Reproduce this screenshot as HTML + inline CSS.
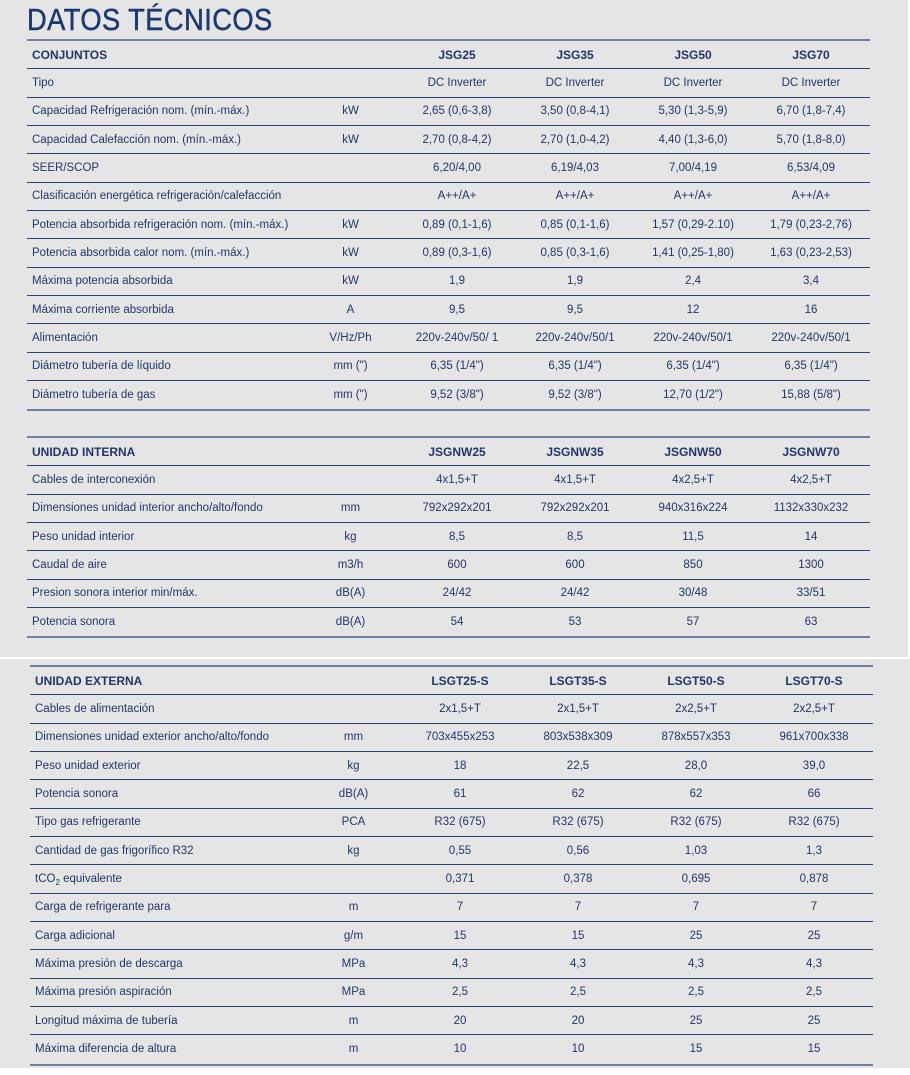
<!DOCTYPE html>
<html><head><meta charset="utf-8"><style>
*{margin:0;padding:0;box-sizing:border-box}
body{width:910px;height:1075px;background:#fff;position:relative;overflow:hidden;font-family:"Liberation Sans",sans-serif;color:#22366a}
.p1{position:absolute;left:0;top:0;width:908px;height:657px;background:#e5e5e5}
.p2{position:absolute;left:0;top:659px;width:910px;height:409px;background:#e5e5e5}
h1{position:absolute;left:27px;top:2px;font-size:31px;font-weight:normal;color:#1c3a72;letter-spacing:0.5px;transform:scaleX(0.88);transform-origin:left top;-webkit-text-stroke:0.5px #1c3a72}
.t{position:absolute;width:843px;border-top:2px solid #6e7fa3;border-bottom:2px solid #6e7fa3}
.r{display:flex;height:28.33px;align-items:center;border-bottom:1.5px solid #2b4274;font-size:11.5px}
.r:last-child{border-bottom:none}
.r div{text-align:center}
.r .l{width:276px;text-align:left;padding-left:5px}
.r .u{width:95px}
.r .c{width:118px}
.h{font-weight:bold;font-size:12px}
sub{font-size:8px;line-height:0;vertical-align:-3px}
</style></head><body>
<div class="p1"></div><div class="p2"></div>
<h1>DATOS TÉCNICOS</h1>
<div class="t" style="left:27px;top:39px">
<div class="r h"><div class="l">CONJUNTOS</div><div class="u"></div><div class="c">JSG25</div><div class="c">JSG35</div><div class="c">JSG50</div><div class="c">JSG70</div></div>
<div class="r"><div class="l">Tipo</div><div class="u"></div><div class="c">DC Inverter</div><div class="c">DC Inverter</div><div class="c">DC Inverter</div><div class="c">DC Inverter</div></div>
<div class="r"><div class="l">Capacidad Refrigeración nom. (mín.-máx.)</div><div class="u">kW</div><div class="c">2,65 (0,6-3,8)</div><div class="c">3,50 (0,8-4,1)</div><div class="c">5,30 (1,3-5,9)</div><div class="c">6,70 (1,8-7,4)</div></div>
<div class="r"><div class="l">Capacidad Calefacción nom. (mín.-máx.)</div><div class="u">kW</div><div class="c">2,70 (0,8-4,2)</div><div class="c">2,70 (1,0-4,2)</div><div class="c">4,40 (1,3-6,0)</div><div class="c">5,70 (1,8-8,0)</div></div>
<div class="r"><div class="l">SEER/SCOP</div><div class="u"></div><div class="c">6,20/4,00</div><div class="c">6,19/4,03</div><div class="c">7,00/4,19</div><div class="c">6,53/4,09</div></div>
<div class="r"><div class="l">Clasificación energética refrigeración/calefacción</div><div class="u"></div><div class="c">A++/A+</div><div class="c">A++/A+</div><div class="c">A++/A+</div><div class="c">A++/A+</div></div>
<div class="r"><div class="l">Potencia absorbida refrigeración nom. (mín.-máx.)</div><div class="u">kW</div><div class="c">0,89 (0,1-1,6)</div><div class="c">0,85 (0,1-1,6)</div><div class="c">1,57 (0,29-2.10)</div><div class="c">1,79 (0,23-2,76)</div></div>
<div class="r"><div class="l">Potencia absorbida calor nom. (mín.-máx.)</div><div class="u">kW</div><div class="c">0,89 (0,3-1,6)</div><div class="c">0,85 (0,3-1,6)</div><div class="c">1,41 (0,25-1,80)</div><div class="c">1,63 (0,23-2,53)</div></div>
<div class="r"><div class="l">Máxima potencia absorbida</div><div class="u">kW</div><div class="c">1,9</div><div class="c">1,9</div><div class="c">2,4</div><div class="c">3,4</div></div>
<div class="r"><div class="l">Máxima corriente absorbida</div><div class="u">A</div><div class="c">9,5</div><div class="c">9,5</div><div class="c">12</div><div class="c">16</div></div>
<div class="r"><div class="l">Alimentación</div><div class="u">V/Hz/Ph</div><div class="c">220v-240v/50/ 1</div><div class="c">220v-240v/50/1</div><div class="c">220v-240v/50/1</div><div class="c">220v-240v/50/1</div></div>
<div class="r"><div class="l">Diámetro tubería de líquido</div><div class="u">mm (")</div><div class="c">6,35 (1/4")</div><div class="c">6,35 (1/4")</div><div class="c">6,35 (1/4")</div><div class="c">6,35 (1/4")</div></div>
<div class="r"><div class="l">Diámetro tubería de gas</div><div class="u">mm (")</div><div class="c">9,52 (3/8")</div><div class="c">9,52 (3/8")</div><div class="c">12,70 (1/2")</div><div class="c">15,88 (5/8")</div></div>
</div>
<div class="t" style="left:27px;top:436px">
<div class="r h"><div class="l">UNIDAD INTERNA</div><div class="u"></div><div class="c">JSGNW25</div><div class="c">JSGNW35</div><div class="c">JSGNW50</div><div class="c">JSGNW70</div></div>
<div class="r"><div class="l">Cables de interconexión</div><div class="u"></div><div class="c">4x1,5+T</div><div class="c">4x1,5+T</div><div class="c">4x2,5+T</div><div class="c">4x2,5+T</div></div>
<div class="r"><div class="l">Dimensiones unidad interior ancho/alto/fondo</div><div class="u">mm</div><div class="c">792x292x201</div><div class="c">792x292x201</div><div class="c">940x316x224</div><div class="c">1132x330x232</div></div>
<div class="r"><div class="l">Peso unidad interior</div><div class="u">kg</div><div class="c">8,5</div><div class="c">8,5</div><div class="c">11,5</div><div class="c">14</div></div>
<div class="r"><div class="l">Caudal de aire</div><div class="u">m3/h</div><div class="c">600</div><div class="c">600</div><div class="c">850</div><div class="c">1300</div></div>
<div class="r"><div class="l">Presion sonora interior min/máx.</div><div class="u">dB(A)</div><div class="c">24/42</div><div class="c">24/42</div><div class="c">30/48</div><div class="c">33/51</div></div>
<div class="r"><div class="l">Potencia sonora</div><div class="u">dB(A)</div><div class="c">54</div><div class="c">53</div><div class="c">57</div><div class="c">63</div></div>
</div>
<div class="t" style="left:30px;top:665px">
<div class="r h"><div class="l">UNIDAD EXTERNA</div><div class="u"></div><div class="c">LSGT25-S</div><div class="c">LSGT35-S</div><div class="c">LSGT50-S</div><div class="c">LSGT70-S</div></div>
<div class="r"><div class="l">Cables de alimentación</div><div class="u"></div><div class="c">2x1,5+T</div><div class="c">2x1,5+T</div><div class="c">2x2,5+T</div><div class="c">2x2,5+T</div></div>
<div class="r"><div class="l">Dimensiones unidad exterior ancho/alto/fondo</div><div class="u">mm</div><div class="c">703x455x253</div><div class="c">803x538x309</div><div class="c">878x557x353</div><div class="c">961x700x338</div></div>
<div class="r"><div class="l">Peso unidad exterior</div><div class="u">kg</div><div class="c">18</div><div class="c">22,5</div><div class="c">28,0</div><div class="c">39,0</div></div>
<div class="r"><div class="l">Potencia sonora</div><div class="u">dB(A)</div><div class="c">61</div><div class="c">62</div><div class="c">62</div><div class="c">66</div></div>
<div class="r"><div class="l">Tipo gas refrigerante</div><div class="u">PCA</div><div class="c">R32 (675)</div><div class="c">R32 (675)</div><div class="c">R32 (675)</div><div class="c">R32 (675)</div></div>
<div class="r"><div class="l">Cantidad de gas frigorífico R32</div><div class="u">kg</div><div class="c">0,55</div><div class="c">0,56</div><div class="c">1,03</div><div class="c">1,3</div></div>
<div class="r"><div class="l">tCO<sub>2</sub> equivalente</div><div class="u"></div><div class="c">0,371</div><div class="c">0,378</div><div class="c">0,695</div><div class="c">0,878</div></div>
<div class="r"><div class="l">Carga de refrigerante para</div><div class="u">m</div><div class="c">7</div><div class="c">7</div><div class="c">7</div><div class="c">7</div></div>
<div class="r"><div class="l">Carga adicional</div><div class="u">g/m</div><div class="c">15</div><div class="c">15</div><div class="c">25</div><div class="c">25</div></div>
<div class="r"><div class="l">Máxima presión de descarga</div><div class="u">MPa</div><div class="c">4,3</div><div class="c">4,3</div><div class="c">4,3</div><div class="c">4,3</div></div>
<div class="r"><div class="l">Máxima presión aspiración</div><div class="u">MPa</div><div class="c">2,5</div><div class="c">2,5</div><div class="c">2,5</div><div class="c">2,5</div></div>
<div class="r"><div class="l">Longitud máxima de tubería</div><div class="u">m</div><div class="c">20</div><div class="c">20</div><div class="c">25</div><div class="c">25</div></div>
<div class="r"><div class="l">Máxima diferencia de altura</div><div class="u">m</div><div class="c">10</div><div class="c">10</div><div class="c">15</div><div class="c">15</div></div>
</div>
</body></html>
